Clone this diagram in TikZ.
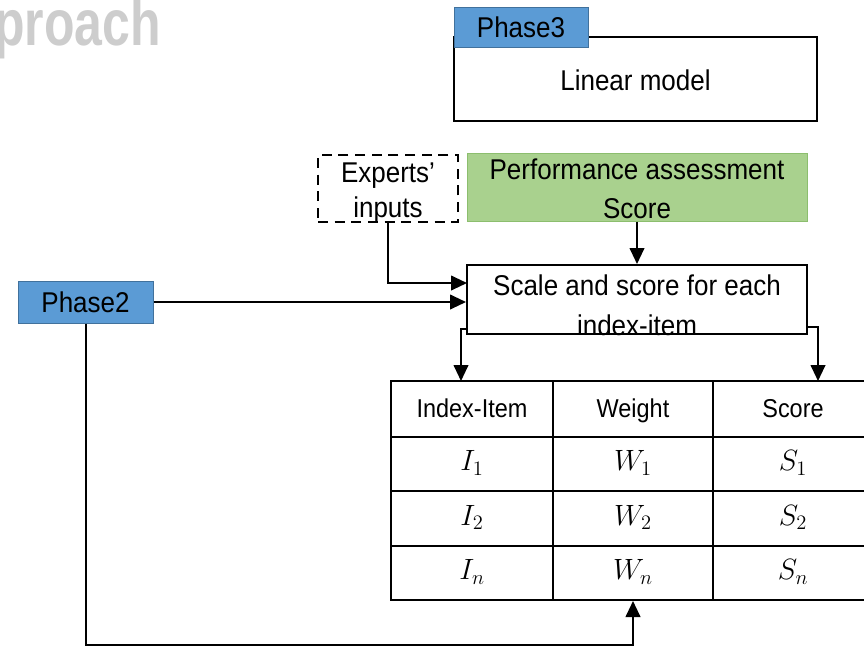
\RequirePackage{fix-cm}
\documentclass[tikz,border=0pt]{standalone}
\usepackage{fontspec}
\setmainfont{Liberation Sans}
\usetikzlibrary{arrows.meta}
\definecolor{phaseblue}{RGB}{91,155,213}
\definecolor{phaseedge}{RGB}{65,113,156}
\definecolor{greenfill}{RGB}{169,209,142}
\definecolor{greenedge}{RGB}{140,190,110}
\definecolor{titlegray}{RGB}{205,205,205}
\newcommand{\vstretch}[1]{\scalebox{1}[1.1]{#1}}
\begin{document}
\begin{tikzpicture}[x=0.75pt,y=-0.75pt,
  box/.style={draw=black,line width=1.5pt,inner sep=0pt},
  txt/.style={inner sep=0pt,align=center,font=\fontsize{19.5}{29}\selectfont},
  phasebox/.style={draw=phaseedge,fill=phaseblue,line width=0.75pt,inner sep=0pt,
    font=\fontsize{19.5}{24}\selectfont},
  cell/.style={draw=black,line width=1.5pt,inner sep=0pt,minimum width=160*0.75pt},
  hcell/.style={cell,font=\fontsize{17.6}{20}\selectfont,text height=15pt,text depth=3pt},
  mcell/.style={cell,font=\fontsize{22}{26}\selectfont,text height=15pt,text depth=5pt},
  arr/.style={line width=1.5pt,-{Triangle[length=12pt,width=11pt]}},
  conn/.style={line width=1.5pt}]
\useasboundingbox (0,0) rectangle (864,647);

% title fragment
\node[anchor=base east,inner sep=0pt,text=titlegray,
  font=\fontsize{37.5}{40}\selectfont\bfseries] (title) at (161,45) {\scalebox{1}[1.3]{proach}};

% Phase 3
\node[box,minimum width=363*0.75pt,minimum height=84*0.75pt] (linear) at (635.5,79) {};
\node[txt] (lineartxt) at (635.5,80) {\vstretch{Linear model}};
\node[phasebox,minimum width=134*0.75pt,minimum height=40*0.75pt] (phase3) at (521,27) {\vstretch{Phase3}};

% Inputs
\node[box,dashed,dash pattern=on 7.5pt off 5pt,minimum width=140*0.75pt,minimum height=67*0.75pt] (experts) at (388,188.5) {};
\node[txt,font=\fontsize{19.5}{26.5}\selectfont] (expertstxt) at (388,193) {\vstretch{Experts’}\\\vstretch{inputs}};
\node[draw=greenedge,fill=greenfill,line width=0.75pt,inner sep=0pt,
  minimum width=340*0.75pt,minimum height=68*0.75pt] (perf) at (637,187) {};
\node[txt] (perftxt) at (637,189) {\vstretch{Performance assessment}\\\vstretch{Score}};

% Scale box
\node[box,minimum width=340*0.75pt,minimum height=69*0.75pt] (scale) at (637,299.5) {};
\node[txt,font=\fontsize{19.5}{30}\selectfont] (scaletxt) at (637,305) {\vstretch{Scale and score for each}\\\vstretch{index-item}};

% Phase 2
\node[phasebox,minimum width=135*0.75pt,minimum height=42*0.75pt] (phase2) at (85.5,302) {\vstretch{Phase2}};

% Table
\node[hcell,minimum width=162*0.75pt,minimum height=56*0.75pt] (c11) at (472,409) {\vstretch{Index-Item}};
\node[hcell,minimum height=56*0.75pt] (c12) at (633,409) {\vstretch{Weight}};
\node[hcell,minimum height=56*0.75pt] (c13) at (793,409) {\vstretch{Score}};
\node[mcell,minimum width=162*0.75pt,minimum height=54*0.75pt] (c21) at (472,464) {$I_1$};
\node[mcell,minimum height=54*0.75pt] (c22) at (633,464) {$W_1$};
\node[mcell,minimum height=54*0.75pt] (c23) at (793,464) {$S_1$};
\node[mcell,minimum width=162*0.75pt,minimum height=55*0.75pt] (c31) at (472,518.5) {$I_2$};
\node[mcell,minimum height=55*0.75pt] (c32) at (633,518.5) {$W_2$};
\node[mcell,minimum height=55*0.75pt] (c33) at (793,518.5) {$S_2$};
\node[mcell,minimum width=162*0.75pt,minimum height=54*0.75pt] (c41) at (472,573) {$I_n$};
\node[mcell,minimum height=54*0.75pt] (c42) at (633,573) {$W_n$};
\node[mcell,minimum height=54*0.75pt] (c43) at (793,573) {$S_n$};

% connectors
\coordinate (e2s) at (467,283);
\coordinate (sl) at (467,329);
\coordinate (tl) at (461,381);
\coordinate (sr) at (807,327);
\coordinate (tr) at (818,381);
\coordinate (bot) at (633,645);

\draw[arr] (perf.south) -- (scale.north);
\draw[arr] (experts.south) |- (e2s);
\draw[arr] (phase2.east) -- (phase2.east -| scale.west);
\draw[arr] (sl) -| (tl);
\draw[arr] (sr) -| (tr);
\draw[arr] (phase2.south) |- (bot) -- (c42.south);
\end{tikzpicture}
\end{document}
